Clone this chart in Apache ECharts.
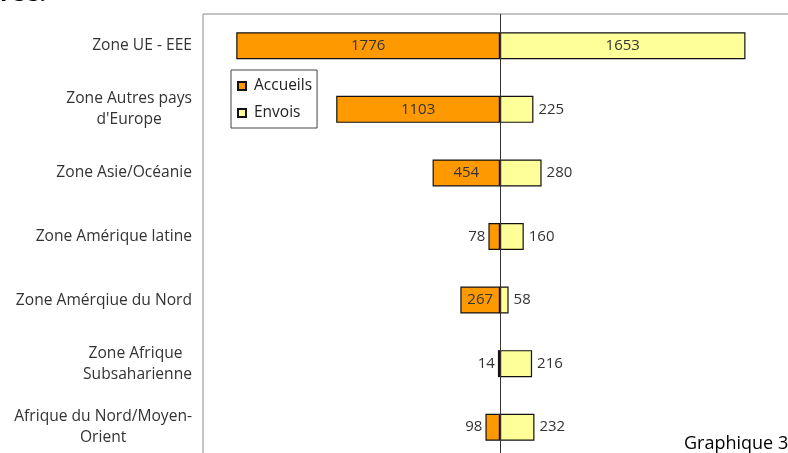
<!DOCTYPE html>
<html>
<head>
<meta charset="utf-8">
<script src="https://cdn.jsdelivr.net/npm/echarts@6/dist/echarts.min.js"></script>
<style>
  html, body { margin: 0; padding: 0; background: #fff; }
  #chart { width: 788px; height: 453px; }
</style>
</head>
<body>
<div id="chart"></div>
<script>
// zones, du haut vers le bas
const categories = [
  'Zone UE - EEE',
  'Zone Autres pays\nd\'Europe',
  'Zone Asie/Océanie',
  'Zone Amérique latine',
  'Zone Amérqiue du Nord',
  'Zone Afrique \nSubsaharienne',
  'Afrique du Nord/Moyen-\nOrient'
]
const accueils = [1776, 1103, 454, 78, 267, 14, 98]
const envois = [1653, 225, 280, 160, 58, 216, 232]

const font = 'Open Sans'
const catSize = 15.6
const textColor = '#333'

// largeur de la plus longue ligne pour centrer les libellés sur deux lignes
const ctx = document.createElement('canvas').getContext('2d')
ctx.font = catSize + 'px "' + font + '"'
const rich = {}
categories.forEach((c, i) => {
  const w = Math.max(...c.split('\n').map(s => ctx.measureText(s).width))
  rich['c' + i] = { width: w, align: 'center', fontFamily: font, fontSize: catSize, color: textColor, lineHeight: 21 }
})

const chart = echarts.init(document.getElementById('chart'))
const option = {
  animation: false,
  legend: {
    orient: 'vertical',
    left: 231,
    top: 70,
    padding: [8, 5, 7, 6],
    itemGap: 11,
    itemWidth: 8,
    itemHeight: 8,
    icon: 'rect',
    borderColor: '#444',
    borderWidth: 1,
    textStyle: { fontFamily: font, fontSize: 15.5, color: '#222', padding: [0, 0, 0, 3] },
    data: ['Accueils', 'Envois']
  },
  grid: {
    left: 203,
    top: 14,
    width: 594,
    height: 445,
    outerBoundsMode: 'none',
    show: true,
    borderColor: '#888',
    borderWidth: 1,
    backgroundColor: 'transparent'
  },
  xAxis: {
    type: 'value',
    min: -2000,
    max: 2000,
    show: false
  },
  yAxis: {
    type: 'category',
    inverse: true,
    data: categories,
    axisLine: { show: false },
    axisTick: { show: false },
    axisLabel: {
      margin: 11,
      formatter: (v, i) => v.split('\n').map(s => '{c' + i + '|' + s + '}').join('\n'),
      rich: rich
    }
  },
  series: [
    {
      name: 'Accueils',
      type: 'bar',
      barWidth: 27,
      barGap: '-100%',
      itemStyle: { color: '#ff9900', borderColor: '#111', borderWidth: 1.2 },
      data: accueils.map(v => ({
        value: -v,
        label: { position: v > 200 ? 'inside' : 'left', distance: 3 }
      })),
      label: {
        show: true,
        formatter: p => Math.abs(p.value),
        fontFamily: font,
        fontSize: 15,
        color: textColor
      },
      markLine: {
        silent: true,
        symbol: 'none',
        label: { show: false },
        lineStyle: { color: '#333', width: 1, type: 'solid' },
        data: [{ xAxis: 0 }]
      }
    },
    {
      name: 'Envois',
      type: 'bar',
      barWidth: 27,
      itemStyle: { color: '#ffff99', borderColor: '#111', borderWidth: 1.2 },
      data: envois.map(v => ({
        value: v,
        label: { position: v > 1000 ? 'inside' : 'right', distance: 5 }
      })),
      label: {
        show: true,
        fontFamily: font,
        fontSize: 15,
        color: textColor
      }
    }
  ],
  graphic: [
    {
      type: 'text',
      left: 0,
      top: -18,
      style: { text: 'rée.', font: 'bold 24px "Open Sans"', fill: '#000' }
    },
    {
      type: 'text',
      left: 684,
      top: 435,
      style: { text: 'Graphique 3', font: '18px "Open Sans"', fill: '#000' }
    }
  ]
}
chart.setOption(option)
window.addEventListener('resize', () => {
  chart.resize()
})
</script>
</body>
</html>
